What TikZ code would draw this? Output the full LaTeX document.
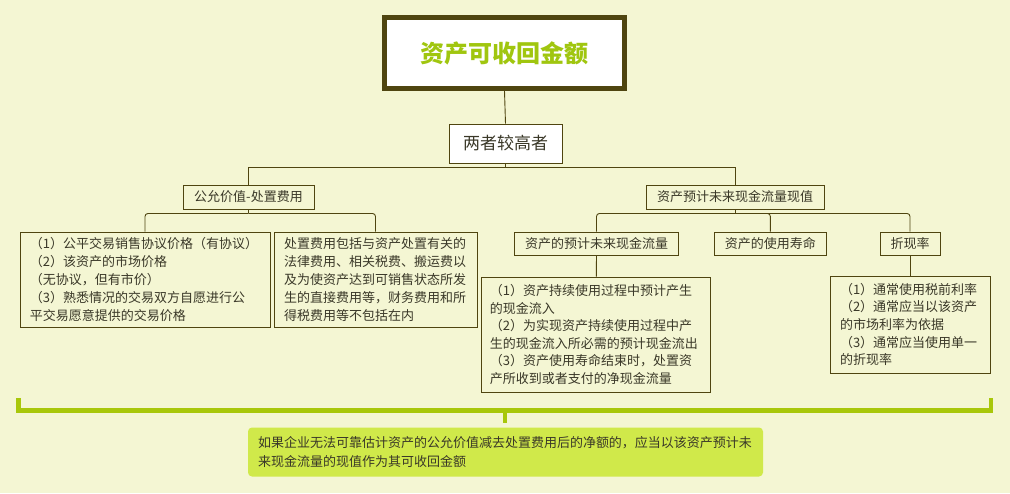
\documentclass[tikz,border=0pt]{standalone}
\usepackage{fontspec}
\setmainfont{Noto Sans CJK SC}
\usetikzlibrary{calc}
\definecolor{bgc}{HTML}{F4F6D3}
\definecolor{edge}{HTML}{4F4510}
\definecolor{leaf}{HTML}{A0C60F}
\definecolor{txt}{HTML}{3A3828}
\definecolor{notefill}{HTML}{D0E94A}
\definecolor{brkgreen}{HTML}{A8C70A}

\begin{document}
\begin{tikzpicture}[x=1pt,y=-1pt]
\tikzstyle{box}=[draw=edge,line width=0.9pt,text=txt,inner sep=0pt,font=\fontsize{13}{18}\selectfont]
\tikzstyle{conn}=[draw=edge,line width=0.9pt]
\tikzstyle{bracket}=[draw=brkgreen,line width=4.5pt]

\path[fill=bgc,use as bounding box] (0,0) rectangle (1010,493);

\node[draw=edge,line width=5pt,fill=white,minimum width=240pt,minimum height=71pt,text=leaf,font=\fontsize{24}{24}\selectfont\bfseries] (root) at (504.5,53) {资产可收回金额};
\node[box,fill=white,minimum width=113pt,minimum height=39pt,font=\fontsize{17}{17}\selectfont] (liang) at (505.5,143.5) {两者较高者};

\node[box,minimum width=131pt,minimum height=24pt] (fair) at (248.5,197) {公允价值-处置费用};
\node[box,minimum width=178pt,minimum height=24pt] (pv) at (735,197) {资产预计未来现金流量现值};

\node[box,align=left,text width=230pt,inner xsep=10pt,minimum height=95pt] (fair1) at (145,279.5) {（1）公平交易销售协议价格（有协议）\\（2）该资产的市场价格\\（无协议，但有市价）\\（3）熟悉情况的交易双方自愿进行公\\平交易愿意提供的交易价格};
\node[box,align=left,text width=183pt,inner xsep=10pt,minimum height=95pt] (fair2) at (375.5,279.5) {处置费用包括与资产处置有关的\\法律费用、相关税费、搬运费以\\及为使资产达到可销售状态所发\\生的直接费用等，财务费用和所\\得税费用等不包括在内};

\node[box,minimum width=164pt,minimum height=23pt] (flow) at (596.5,243.5) {资产的预计未来现金流量};
\node[box,minimum width=112pt,minimum height=23pt] (life) at (770.4,243.5) {资产的使用寿命};
\node[box,minimum width=60pt,minimum height=23pt] (rate) at (910,243.5) {折现率};

\node[box,align=left,text width=213pt,inner xsep=8pt,minimum height=115pt,font=\fontsize{13}{17.6}\selectfont] (flowd) at (596.3,334.5) {（1）资产持续使用过程中预计产生\\的现金流入\\（2）为实现资产持续使用过程中产\\生的现金流入所必需的预计现金流出\\（3）资产使用寿命结束时，处置资\\产所收到或者支付的净现金流量};
\node[box,align=left,text width=140pt,inner xsep=10pt,minimum height=97pt,font=\fontsize{13}{17.7}\selectfont] (rated) at (910,324.5) {（1）通常使用税前利率\\（2）通常应当以该资产\\的市场利率为依据\\（3）通常应当使用单一\\的折现率};

\node[fill=notefill,rounded corners=4pt,text=txt,align=left,text width=495pt,inner xsep=10pt,inner ysep=0pt,minimum height=49pt,font=\fontsize{13}{19}\selectfont] (note) at (505.5,452) {如果企业无法可靠估计资产的公允价值减去处置费用后的净额的，应当以该资产预计未\\来现金流量的现值作为其可收回金额};

\draw[conn] (root.south) -- (liang.north);
\draw[conn] (liang.south) -- ++(0,4) coordinate (liangbus);
\foreach \c in {fair,pv}
  \draw[conn] (liangbus) -| (\c.north);
\draw[conn] (fair.south) -- ++(0,4) coordinate (fairbus);
\foreach \c in {fair1,fair2}
  \draw[conn,rounded corners=3pt] (fairbus) -| (\c.north);
\draw[conn] (pv.south) -- ++(0,4) coordinate (pvbus);
\foreach \c in {flow,life,rate}
  \draw[conn,rounded corners=3pt] (pvbus) -| (\c.north);
\draw[conn] (flow.south) -- (flowd.north);
\draw[conn] (rate.south) -- (rated.north);

\coordinate (brkl) at (18.5,398);
\coordinate (brkr) at (991,398);
\coordinate (brkm) at (505,410.5);
\draw[bracket] (brkl) |- (brkm) -| (brkr);
\draw[bracket,line width=4pt] (brkm) -- ++(0,12.5);
\end{tikzpicture}
\end{document}
